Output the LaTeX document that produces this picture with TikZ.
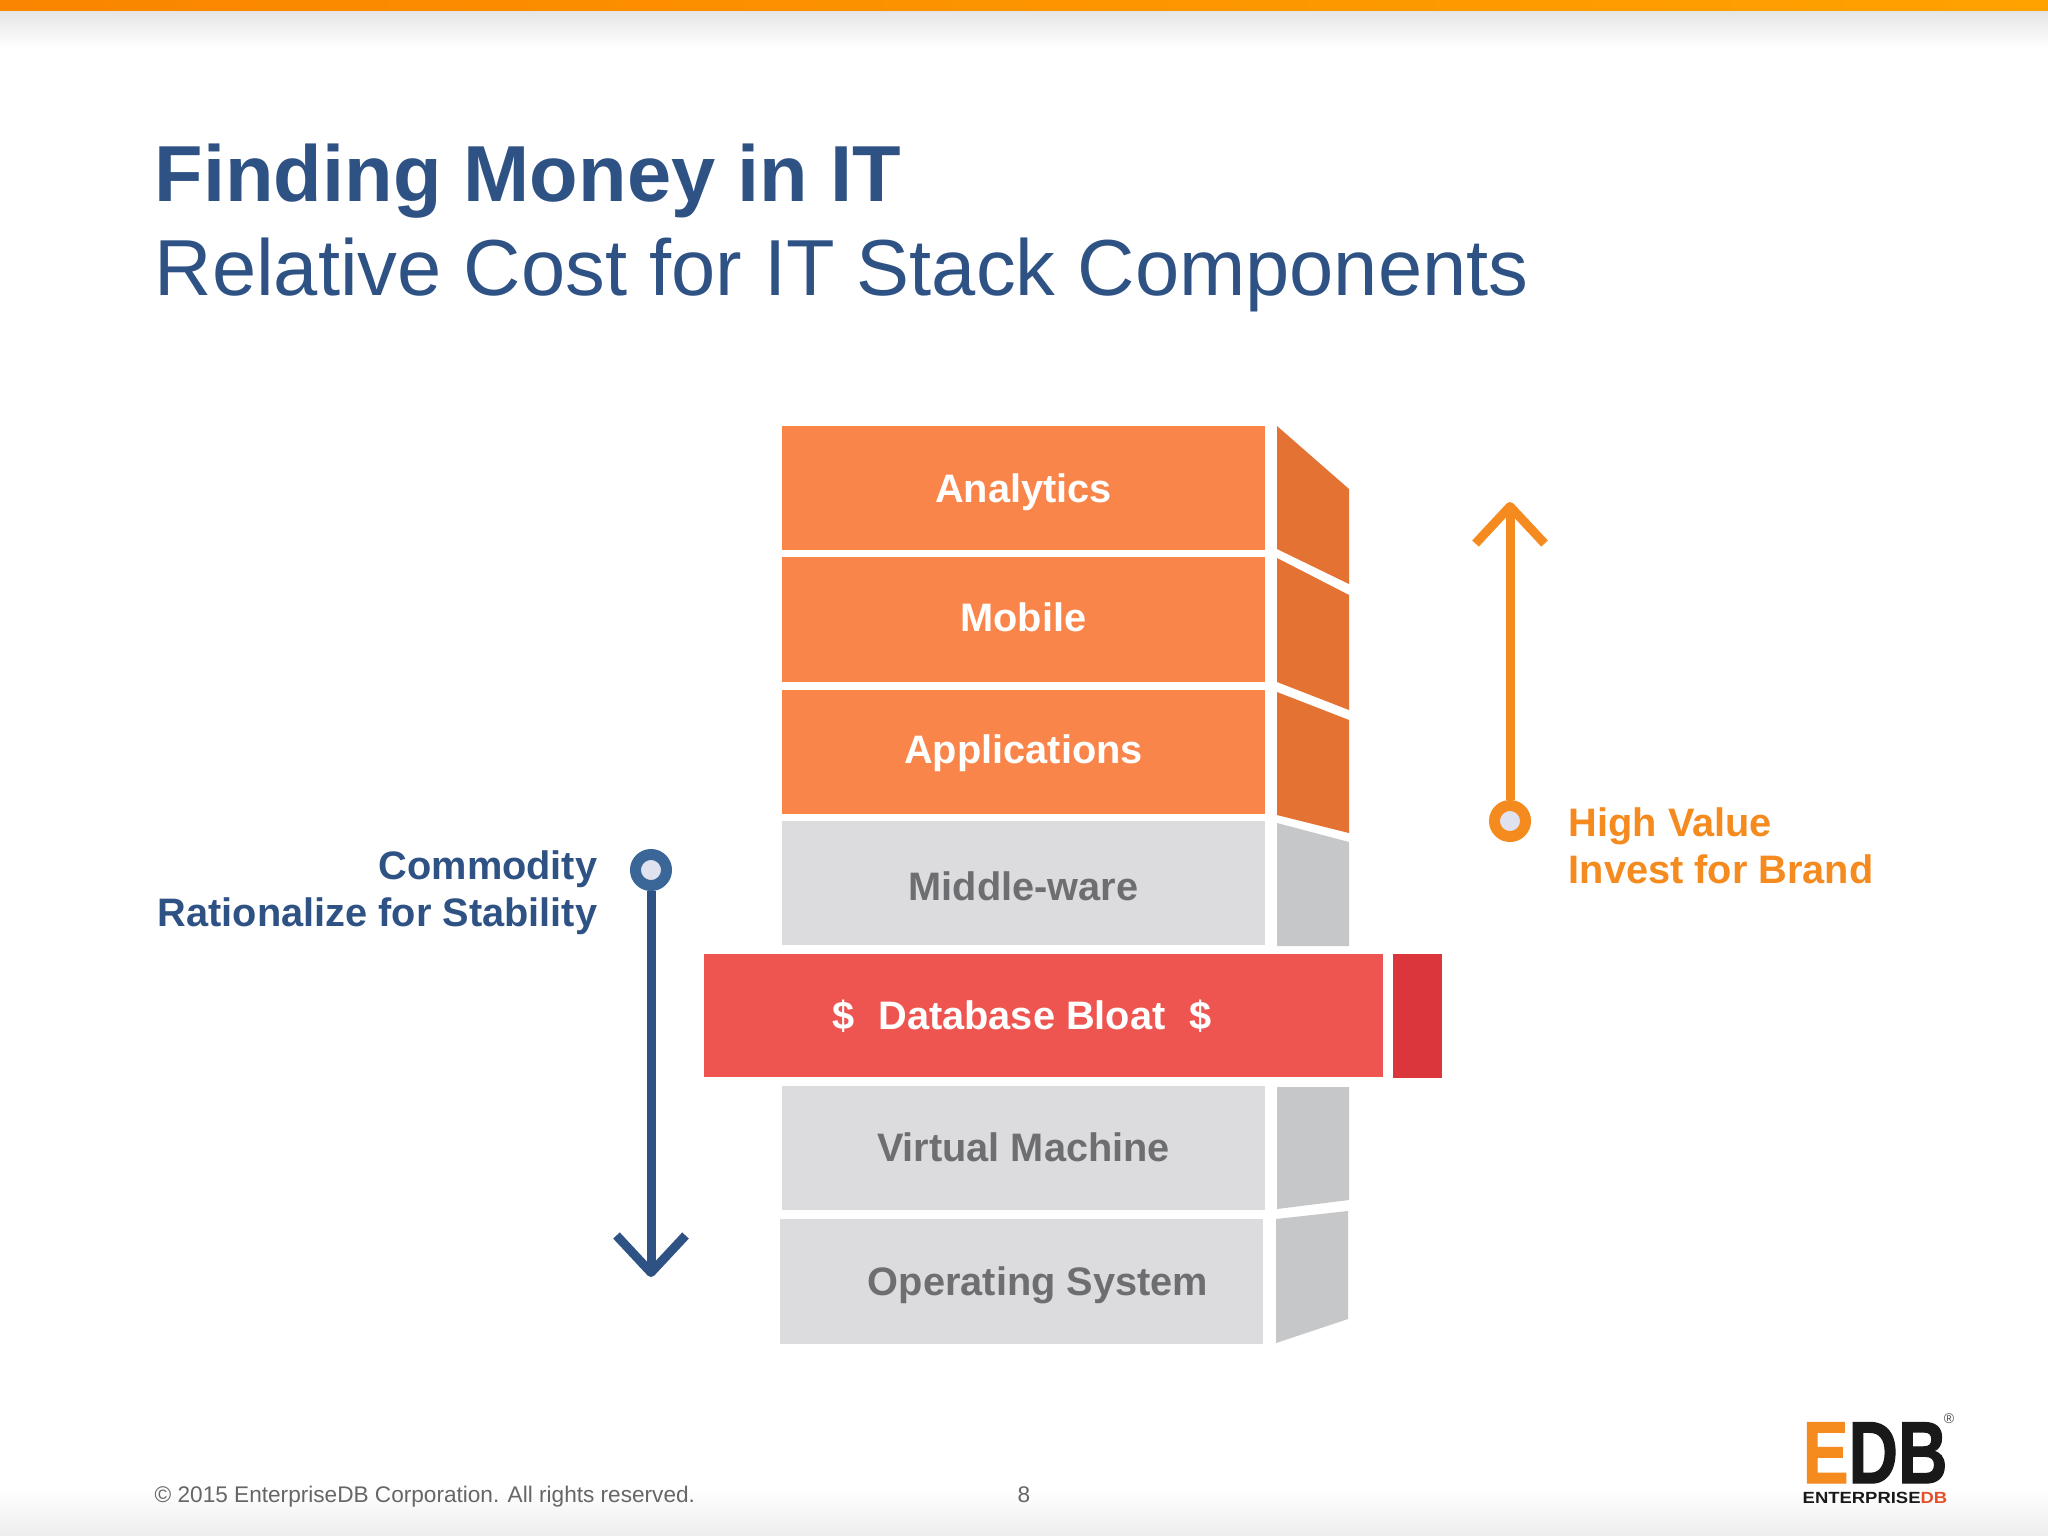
\documentclass[tikz,border=0pt]{standalone}
\usepackage{fontspec}
\setmainfont{Liberation Sans}
\newfontfamily\logofont[BoldFeatures={FakeBold=1.5}]{Liberation Sans}
\usetikzlibrary{arrows.meta}
\definecolor{edbblue}{HTML}{2F5285}
\definecolor{edbring}{HTML}{3A6797}
\definecolor{edborange}{HTML}{F58A1F}
\definecolor{hotfront}{HTML}{F9854A}
\definecolor{hotface}{HTML}{E47232}
\definecolor{coldfront}{HTML}{DCDBDD}
\definecolor{coldface}{HTML}{C6C7C8}
\definecolor{bloatfront}{HTML}{EE5551}
\definecolor{bloatface}{HTML}{DA363B}
\definecolor{coldtext}{HTML}{6D6E71}
\definecolor{dotfill}{HTML}{E0E3EF}
\definecolor{barleft}{HTML}{FA8500}
\definecolor{barright}{HTML}{FFA200}
\definecolor{logored}{HTML}{E5502A}
\newcommand{\labelfont}{\fontsize{11.3}{13.1}\selectfont\bfseries}
\tikzset{
    rowbox/.style={rectangle, inner sep=0pt, minimum width=4.83cm, minimum height=1.24cm, text height=8.2pt, text depth=0pt, font=\labelfont},
    hotbox/.style={rowbox, fill=hotfront, text=white},
    coldbox/.style={rowbox, fill=coldfront, text=coldtext},
    rowtext/.style={inner sep=0pt, text height=8.2pt, text depth=0pt, font=\labelfont},
    sidelabel/.style={inner sep=0pt, font=\labelfont},
    ring/.style={circle, inner sep=0pt, minimum size=0.31cm, line width=0.11cm, fill=dotfill},
    stem/.style={line width=0.09cm, -{Straight Barb[length=0.37cm, width=0.69cm, line cap=butt, line join=round]}}
}
\begin{document}
\begin{tikzpicture}[x=0.01cm, y=-0.01cm]
    \useasboundingbox (0,0) rectangle (2048,1536);
    \fill[white] (0,0) rectangle (2048,1536);
    \shade[top color=black!10, bottom color=white] (0,11) rectangle (2048,48);
    \shade[top color=white, bottom color=black!7] (0,1490) rectangle (2048,1536);
    \shade[left color=barleft, right color=barright] (0,0) rectangle (2048,10);

    \node[anchor=base west, inner sep=0pt, text=edbblue, font=\fontsize{22.6}{26}\selectfont\bfseries] (title) at (154,201) {Finding Money in IT};
    \node[anchor=base west, inner sep=0pt, text=edbblue, font=\fontsize{22.6}{26}\selectfont] (subtitle) at (154,295) {Relative Cost for IT Stack Components};

    \node[hotbox] (analytics) at (1023.5,488) {Analytics};
    \node[hotbox, text depth=1.5pt] (mobile) at (1023.5,619.5) {Mobile};
    \node[hotbox, text depth=1.5pt] (applications) at (1023.5,752) {Applications};
    \node[coldbox, text height=9.7pt] (middleware) at (1023.5,883) {Middle-ware};
    \node[coldbox, text depth=0.75pt] (virtual) at (1023.5,1148) {Virtual Machine};
    \node[coldbox] (opsys) at (1021.5,1281.5) {};
    \node[rowtext, text=coldtext] (opsystext) at (1038,1281.5) {Operating System};
    \node[rowbox, fill=bloatfront, minimum width=6.79cm, minimum height=1.23cm] (bloat) at (1043.5,1015.5) {};
    \node[rowtext, text=white] (bloattext) at (1022,1015.5) {\$\hspace{0.6em}Database Bloat\hspace{0.6em}\$};
    \node[rectangle, inner sep=0pt, fill=bloatface, minimum width=0.49cm, minimum height=1.23cm] (bloatend) at (1417.5,1016) {};

    \fill[hotface] (1277,426) -- (1349,489) -- (1349,584) -- (1277,549) -- cycle;
    \fill[hotface] (1277,558) -- (1349,595) -- (1349,710) -- (1277,682) -- cycle;
    \fill[hotface] (1277,692) -- (1349,720) -- (1349,833) -- (1277,815) -- cycle;
    \fill[coldface] (1277,823) -- (1349,842) -- (1349,946) -- (1277,946) -- cycle;
    \fill[coldface] (1277,1087) -- (1349,1087) -- (1349,1200) -- (1277,1209) -- cycle;
    \fill[coldface] (1276,1219) -- (1348,1211) -- (1348,1319) -- (1276,1343) -- cycle;

    \node[ring, draw=edborange] (valuedot) at (1510,821) {};
    \coordinate (valuetip) at (1510,502);
    \draw[stem, edborange] (valuedot) -- (valuetip);
    \node[ring, draw=edbring] (commoditydot) at (651,870) {};
    \coordinate (commoditytip) at (651,1277);
    \draw[stem, edbblue] (commoditydot) -- (commoditytip);

    \node[sidelabel, anchor=base west, align=left, text=edborange] (value) at (1568,883) {High Value\\Invest for Brand};
    \node[sidelabel, anchor=base east, align=right, text=edbblue] (commodity) at (598,926) {Commodity\\Rationalize for Stability};

    \node[anchor=base west, inner sep=0pt, text=black!60, font=\fontsize{6.43}{8}\selectfont] (copyright) at (154,1502) {© 2015 EnterpriseDB Corporation. All rights reserved.};
    \node[anchor=base, inner sep=0pt, text=black!60, font=\fontsize{6.43}{8}\selectfont] (pagenum) at (1024,1502) {8};

    \node[anchor=base west, inner sep=0pt, font=\fontsize{25}{26}\logofont\bfseries] (logo) at (1802,1483) {\scalebox{0.78}[1]{\textcolor{edborange}{E}\textcolor{black!90}{DB}}};
    \node[anchor=base west, inner sep=0pt, font=\fontsize{4.6}{5}\selectfont\bfseries] (logotext) at (1802,1503) {\scalebox{1.14}[1]{\textcolor{black!90}{ENTERPRISE}\textcolor{logored}{DB}}};
    \node[anchor=center, inner sep=0pt, text=black!70, font=\fontsize{4}{4}\selectfont] (logomark) at (1949,1419) {®};
\end{tikzpicture}
\end{document}
